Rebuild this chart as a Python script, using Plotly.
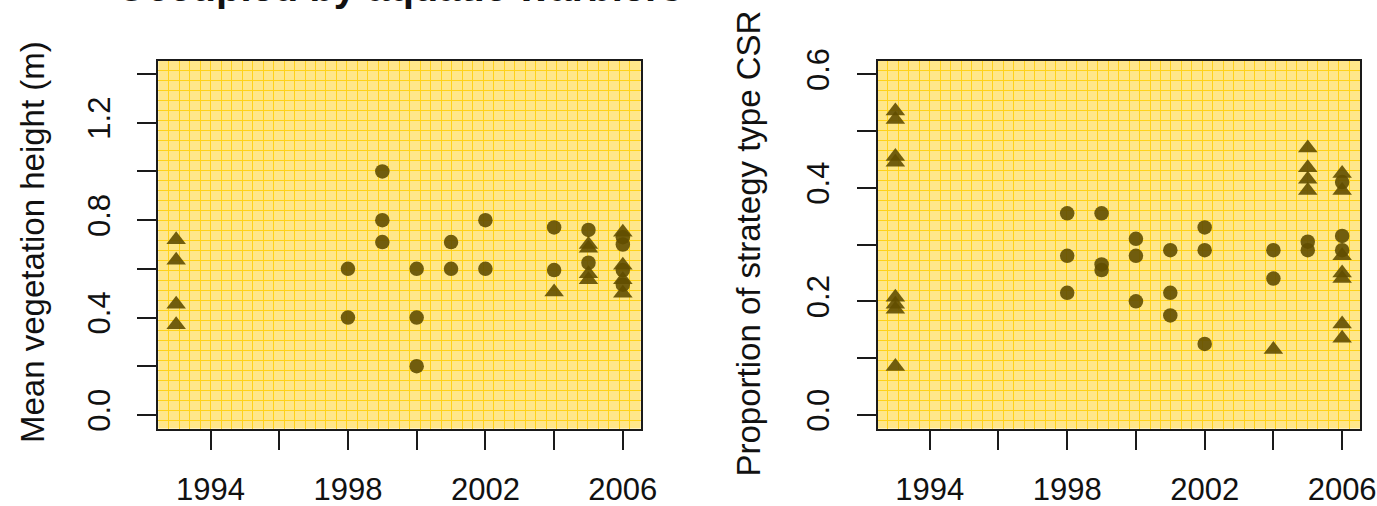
import plotly.graph_objects as go

# ---------------- data ----------------
years_ticks = [1994, 1996, 1998, 2000, 2002, 2004, 2006]
years_text = ["1994", "", "1998", "", "2002", "", "2006"]

# Left panel: mean vegetation height (m)
height_circle_years = [1998, 1998, 1999, 1999, 1999, 2000, 2000, 2000, 2001, 2001,
                       2002, 2002, 2004, 2004, 2005, 2005, 2006, 2006, 2006, 2006]
height_circle_vals = [0.60, 0.40, 1.00, 0.80, 0.71, 0.60, 0.40, 0.20, 0.71, 0.60,
                      0.80, 0.60, 0.77, 0.595, 0.76, 0.625, 0.73, 0.70, 0.595, 0.535]
height_tri_years = [1993, 1993, 1993, 1993, 2004, 2005, 2005, 2005, 2005,
                    2006, 2006, 2006, 2006]
height_tri_vals = [0.72, 0.635, 0.455, 0.37, 0.505, 0.70, 0.685, 0.58, 0.555,
                   0.75, 0.615, 0.555, 0.50]
height_ticks = [0.0, 0.2, 0.4, 0.6, 0.8, 1.0, 1.2, 1.4]
height_text = ["0.0", "", "0.4", "", "0.8", "", "1.2", ""]

# Right panel: proportion of strategy type CSR
csr_circle_years = [1998, 1998, 1998, 1999, 1999, 1999, 2000, 2000, 2000,
                    2001, 2001, 2001, 2002, 2002, 2002, 2004, 2004,
                    2005, 2005, 2006, 2006, 2006]
csr_circle_vals = [0.355, 0.28, 0.215, 0.355, 0.265, 0.255, 0.31, 0.28, 0.20,
                   0.29, 0.215, 0.175, 0.33, 0.29, 0.125, 0.29, 0.24,
                   0.305, 0.29, 0.41, 0.315, 0.29]
csr_tri_years = [1993, 1993, 1993, 1993, 1993, 1993, 1993, 1993, 2004,
                 2005, 2005, 2005, 2005, 2006, 2006, 2006, 2006, 2006, 2006, 2006]
csr_tri_vals = [0.535, 0.52, 0.455, 0.445, 0.207, 0.195, 0.186, 0.085, 0.115,
                0.47, 0.435, 0.415, 0.395, 0.425, 0.395, 0.28, 0.25, 0.24, 0.16, 0.135]
csr_ticks = [0.0, 0.1, 0.2, 0.3, 0.4, 0.5, 0.6]
csr_text = ["0.0", "", "0.2", "", "0.4", "", "0.6"]

title_text = "Occupied by aquatic warblers"
ylabel_left = "Mean vegetation height (m)"
ylabel_right = "Proportion of strategy type CSR"

# ---------------- style ----------------
W, H = 1377, 506
FONT = "Liberation Sans, Arial, sans-serif"
MARK = "rgba(98,78,0,0.9)"
BG = "#FFE78A"
GRID = "#FFD21A"
AX = "#1a1a1a"

fig = go.Figure()

def add_panel(cx, cy, tx, ty, xa, ya):
    fig.add_trace(go.Scatter(x=cx, y=cy, mode="markers", xaxis=xa, yaxis=ya,
                             marker=dict(symbol="circle", size=14.5, color=MARK),
                             showlegend=False, hoverinfo="skip"))
    fig.add_trace(go.Scatter(x=tx, y=ty, mode="markers", xaxis=xa, yaxis=ya,
                             marker=dict(symbol="triangle-up", size=17, color=MARK),
                             showlegend=False, hoverinfo="skip"))

add_panel(height_circle_years, height_circle_vals, height_tri_years, height_tri_vals, "x", "y")
add_panel(csr_circle_years, csr_circle_vals, csr_tri_years, csr_tri_vals, "x2", "y2")

ydom = [(H - 428.5) / H, (H - 60.5) / H]
xdom1 = [158.3 / W, 640.7 / W]
xdom2 = [877.5 / W, 1360 / W]

def xaxis_cfg(dom, anchor):
    return dict(domain=dom, anchor=anchor, range=[1992.48, 2006.52],
                automargin=False,
                tickmode="array", tickvals=years_ticks, ticktext=years_text,
                ticks="outside", ticklen=19, tickwidth=2, tickcolor=AX,
                showline=True, linecolor=AX, linewidth=2, mirror=True,
                showgrid=False, zeroline=False, ticklabelstandoff=13,
                tickfont=dict(family=FONT, size=31, color="#111"),
                minor=dict(dtick=0.305, tick0=1992.48, showgrid=True,
                           gridcolor=GRID, gridwidth=1, ticks=""))

def yaxis_cfg(rng, vals, text, anchor, pxstep):
    return dict(domain=ydom, anchor=anchor, range=rng,
                automargin=False,
                tickmode="array", tickvals=vals, ticktext=text, tickangle=-90,
                ticks="outside", ticklen=19, tickwidth=2, tickcolor=AX,
                showline=True, linecolor=AX, linewidth=2, mirror=True,
                showgrid=False, zeroline=False, ticklabelstandoff=15,
                tickfont=dict(family=FONT, size=31, color="#111"),
                minor=dict(dtick=pxstep, tick0=rng[1], showgrid=True,
                           gridcolor=GRID, gridwidth=1, ticks=""))

left_rng = [-0.056, 1.456]
right_rng = [-0.024, 0.624]
plot_h = 368.0
fig.update_layout(
    width=W, height=H, margin=dict(l=0, r=0, t=0, b=0, autoexpand=False),
    paper_bgcolor="white", plot_bgcolor=BG,
    xaxis=xaxis_cfg(xdom1, "y"),
    yaxis=yaxis_cfg(left_rng, height_ticks, height_text, "x",
                    (left_rng[1] - left_rng[0]) * 10.0 / plot_h),
    xaxis2=xaxis_cfg(xdom2, "y2"),
    yaxis2=yaxis_cfg(right_rng, csr_ticks, csr_text, "x2",
                     (right_rng[1] - right_rng[0]) * 10.0 / plot_h),
)

fig.add_annotation(text="<b>" + title_text + "</b>", xref="paper", yref="paper",
                   x=399.5 / W, y=(H + 13) / H, xanchor="center", yanchor="middle",
                   showarrow=False, font=dict(family=FONT, size=40, color="#111"))
fig.add_annotation(text=ylabel_left, xref="paper", yref="paper",
                   x=32 / W, y=(H - 242) / H, xanchor="center", yanchor="middle",
                   textangle=-90, showarrow=False,
                   font=dict(family=FONT, size=33, color="#111"))
fig.add_annotation(text=ylabel_right, xref="paper", yref="paper",
                   x=748 / W, y=(H - 243.5) / H, xanchor="center", yanchor="middle",
                   textangle=-90, showarrow=False,
                   font=dict(family=FONT, size=33, color="#111"))

fig.write_html("out.html")
